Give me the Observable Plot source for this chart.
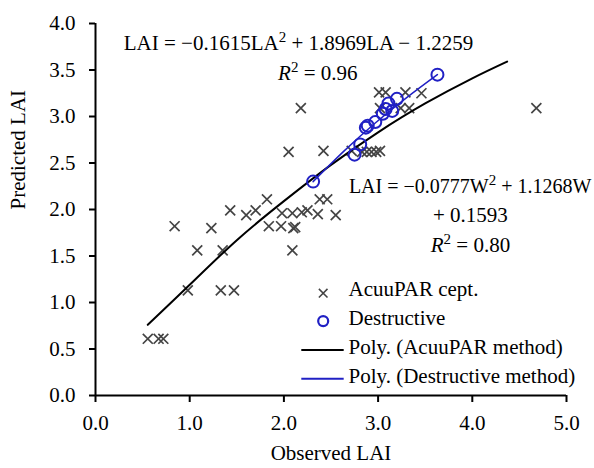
<!DOCTYPE html>
<html><head><meta charset="utf-8">
<script src="https://cdn.jsdelivr.net/npm/d3@7"></script>
<script src="https://cdn.jsdelivr.net/npm/@observablehq/plot@0.6"></script>
<style>
body{margin:0;background:#fff}
#chart svg{font-family:"Liberation Serif",serif;overflow:visible}
</style>
</head><body><div id="chart"></div>
<script>
// AcuuPAR ceptometer estimates (Observed LAI, Predicted LAI)
const acuuObserved = [0.555,0.67,0.72,0.98,1.33,1.47,1.08,1.35,2.09,0.84,1.23,1.43,1.60,1.70,1.82,1.84,1.97,2.10,2.12,1.98,2.09,2.19,2.25,2.36,2.55,2.38,2.46,2.05,2.42,2.18,2.72,2.83,2.88,2.93,2.98,3.02,3.01,3.08,3.29,3.46,3.02,3.24,3.33,4.68];
const acuuPredicted = [0.61,0.61,0.61,1.13,1.13,1.13,1.56,1.56,1.56,1.82,1.80,1.99,1.94,1.99,2.11,1.82,1.82,1.80,1.81,1.96,1.96,1.97,1.99,1.95,1.94,2.11,2.11,2.62,2.63,3.09,2.63,2.62,2.62,2.62,2.62,2.63,3.26,3.26,3.26,3.25,3.09,3.09,3.09,3.09];
// Destructive sampling
const destObserved = [2.31,2.75,2.81,2.87,2.89,2.97,3.05,3.08,3.11,3.15,3.20,3.63];
const destPredicted = [2.30,2.59,2.70,2.88,2.90,2.94,3.03,3.08,3.14,3.06,3.19,3.45];
// Poly. (AcuuPAR method) trend line
const acuuFitX = [0.555,1.0,1.5,2.0,2.5,3.0,3.5,4.0,4.37];
const acuuFitY = [0.76,1.19,1.67,2.09,2.48,2.83,3.14,3.41,3.59];
// Poly. (Destructive method) trend line
const destFitX = [2.31,2.64,2.97,3.30,3.63];
const destFitY = [2.30,2.63,2.93,3.20,3.45];
// axes
const xTicks = [0,1,2,3,4,5];
const yTicks = [0,0.5,1,1.5,2,2.5,3,3.5,4];
const xTitle = "Observed LAI";
const yTitle = "Predicted LAI";
// annotations
const eq1 = "LAI = −0.1615LA² + 1.8969LA − 1.2259";
const r2a = "R² = 0.96";
const eq2a = "LAI = −0.0777W² + 1.1268W";
const eq2b = "+ 0.1593";
const r2b = "R² = 0.80";
const legendLabels = ["AcuuPAR cept.","Destructive","Poly. (AcuuPAR method)","Poly. (Destructive method)"];

const BLUE = "#2020c4", GRAY = "#444444", FS = 21;
const acuu = acuuObserved.map((x,i)=>({x, y:acuuPredicted[i]}));
const dest = destObserved.map((x,i)=>({x, y:destPredicted[i]}));
const acuuFit = acuuFitX.map((x,i)=>({x, y:acuuFitY[i]}));
const destFit = destFitX.map((x,i)=>({x, y:destFitY[i]}));
const fmt = d3.format(".1f");

// legend layout (data coordinates)
const legX = 2.417, legTextX = 2.686, legLine = [2.19, 2.64];
const legRowY = [1.10, 0.80, 0.49, 0.18];
const legTextY = [1.14, 0.83, 0.52, 0.21];

const chart = Plot.plot({
  width: 594, height: 468,
  marginLeft: 95, marginRight: 28, marginTop: 23, marginBottom: 73,
  style: {fontFamily: "Liberation Serif", fontSize: FS + "px", background: "white", color: "black", overflow: "visible"},
  x: {domain: [0,5]},
  y: {domain: [0,4]},
  marks: [
    Plot.axisX({ticks: xTicks, tickFormat: fmt, tickSize: 7, tickPadding: 13, label: null, strokeWidth: 2, fontSize: FS}),
    Plot.axisY({ticks: yTicks, tickFormat: fmt, tickSize: 6, tickPadding: 14, label: null, strokeWidth: 2, fontSize: FS}),
    Plot.ruleX([0], {strokeWidth: 2, stroke: "black"}),
    Plot.ruleY([0], {strokeWidth: 2, stroke: "black"}),
    Plot.text([xTitle], {frameAnchor: "bottom", dy: 64, fontSize: FS}),
    Plot.text([yTitle], {frameAnchor: "left", rotate: -90, dx: -77, fontSize: FS}),
    Plot.dot(acuu, {x: "x", y: "y", symbol: "times", r: 4.6, stroke: GRAY, strokeWidth: 1.7}),
    Plot.line(acuuFit, {x: "x", y: "y", curve: "natural", stroke: "black", strokeWidth: 2}),
    Plot.line(destFit, {x: "x", y: "y", curve: "natural", stroke: BLUE, strokeWidth: 1.5}),
    Plot.dot(dest, {x: "x", y: "y", r: 6, stroke: BLUE, strokeWidth: 2, fill: "none"}),
    // equations
    Plot.text([eq1], {x: () => 0.30, y: () => 3.79, textAnchor: "start", fontSize: FS}),
    Plot.text([r2a], {x: () => 2.36, y: () => 3.46, fontSize: FS}),
    Plot.text([eq2a], {x: () => 2.69, y: () => 2.25, textAnchor: "start", fontSize: 20}),
    Plot.text([eq2b], {x: () => 3.98, y: () => 1.94, fontSize: FS}),
    Plot.text([r2b], {x: () => 3.98, y: () => 1.62, fontSize: FS}),
    // legend
    Plot.dot([0], {x: () => legX, y: () => legRowY[0], symbol: "times", r: 4, stroke: GRAY, strokeWidth: 1.5}),
    Plot.dot([0], {x: () => legX, y: () => legRowY[1], r: 5, stroke: BLUE, strokeWidth: 2.2, fill: "none"}),
    Plot.ruleY([legRowY[2]], {x1: legLine[0], x2: legLine[1], stroke: "black", strokeWidth: 2}),
    Plot.ruleY([legRowY[3]], {x1: legLine[0], x2: legLine[1], stroke: BLUE, strokeWidth: 2}),
    Plot.text(legendLabels, {x: () => legTextX, y: (d,i) => legTextY[i], textAnchor: "start", fontSize: FS})
  ]
});
// italic R and real superscripts
d3.select(chart).selectAll("text").each(function(){
  const t = this.textContent;
  if (!t.includes("²")) return;
  const fs = parseFloat(this.getAttribute("font-size")) || FS;
  const SUP = Math.round(fs * 0.38);
  const sel = d3.select(this);
  sel.text(null);
  let rest = t;
  if (rest.startsWith("R")) { sel.append("tspan").attr("font-style","italic").text("R"); rest = rest.slice(1); }
  rest.split("²").forEach((p,i)=>{
    if (i > 0) sel.append("tspan").attr("dy", -SUP).attr("font-size", Math.round(fs*0.7)).text("2");
    const ts = sel.append("tspan").text(p);
    if (i > 0) ts.attr("dy", SUP);
  });
});
document.getElementById("chart").append(chart);
</script>
</body></html>
